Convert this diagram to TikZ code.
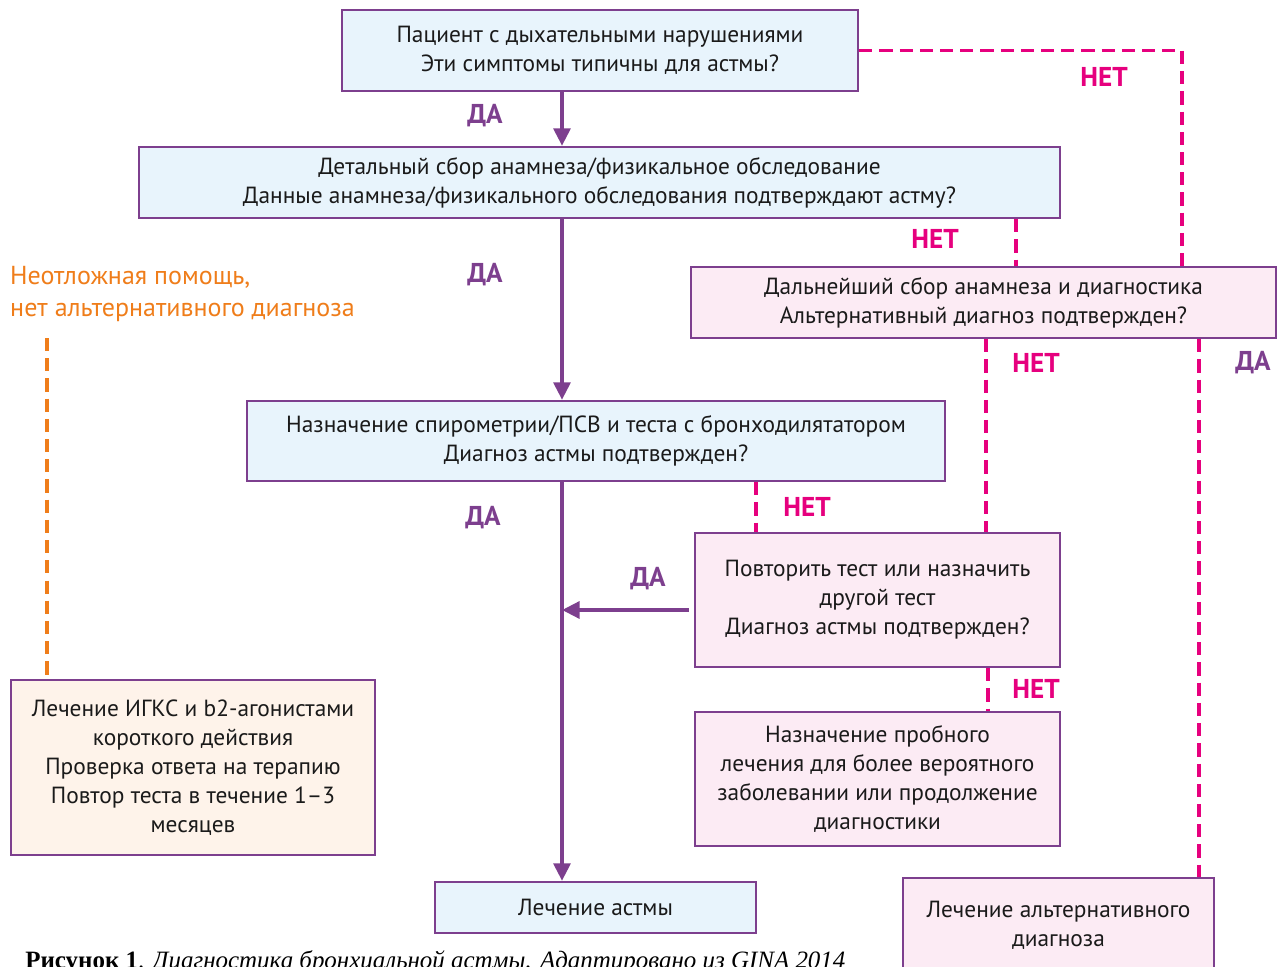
\documentclass[tikz,border=0pt]{standalone}
\usepackage{fontspec}
\setmainfont{PT Sans}
\newfontfamily\capfont{Liberation Serif}
\usetikzlibrary{arrows.meta,positioning,calc}
\definecolor{frame}{HTML}{7D3F8E}
\definecolor{skyfill}{HTML}{E8F4FC}
\definecolor{rosefill}{HTML}{FCEBF4}
\definecolor{peachfill}{HTML}{FEF3EA}
\definecolor{nopink}{HTML}{E6007E}
\definecolor{urgent}{HTML}{EF7D1A}
\definecolor{ink}{HTML}{1A1A1A}
\tikzset{
  yes/.style={-{Triangle[length=10pt,width=9.5pt]},line width=2.3pt,frame},
  no/.style={nopink,line width=2pt,dash pattern=on 7.5pt off 4pt},
  urgentline/.style={urgent,line width=1.9pt,dash pattern=on 7.5pt off 4pt},
  box/.style={draw=frame,line width=1.3pt,inner sep=0pt,align=center,text=ink,
    font=\fontsize{13.3}{16.5}\selectfont},
  askbox/.style={box,fill=skyfill},
  altbox/.style={box,fill=rosefill},
  carebox/.style={box,fill=peachfill},
  yeslabel/.style={text=frame,font=\bfseries\fontsize{15.5}{15.5}\selectfont},
  nolabel/.style={text=nopink,font=\bfseries\fontsize{15.5}{15.5}\selectfont}
}
\begin{document}
\begin{tikzpicture}[x=0.2mm,y=-0.2mm]
\useasboundingbox (0,0) rectangle (1282,967);
% main question chain
\node[askbox,minimum width=10.32cm,minimum height=1.62cm] (typical) at (600,50.5)
  {Пациент с дыхательными нарушениями\\Эти симптомы типичны для астмы?};
\node[askbox,minimum width=18.42cm,minimum height=1.42cm] (history) at (599.5,182.5)
  {Детальный сбор анамнеза/физикальное обследование\\Данные анамнеза/физикального обследования подтверждают астму?};
\node[askbox,minimum width=13.96cm,minimum height=1.6cm] (spiro) at (596,441)
  {Назначение спирометрии/ПСВ и теста с бронходилятатором\\Диагноз астмы подтвержден?};
\node[askbox,minimum width=6.42cm,minimum height=1.02cm] (asthma) at (595.5,907.5)
  {Лечение астмы};
% side branches
\node[altbox,minimum width=11.7cm,minimum height=1.42cm] (further) at (983.5,302.5)
  {Дальнейший сбор анамнеза и диагностика\\Альтернативный диагноз подтвержден?};
\node[altbox,minimum width=7.3cm,minimum height=2.68cm] (retest) at (877.5,600)
  {Повторить тест или назначить\\другой тест\\Диагноз астмы подтвержден?};
\node[altbox,minimum width=7.3cm,minimum height=2.68cm] (trial) at (877.5,779)
  {Назначение пробного\\лечения для более вероятного\\заболевании или продолжение\\диагностики};
\node[altbox,minimum width=6.22cm,minimum height=1.9cm] (alttreat) at (1058.5,925.5)
  {Лечение альтернативного\\диагноза};
% emergency
\node[anchor=west,align=left,text=urgent,font=\fontsize{14.8}{18.2}\selectfont] (urgentnote) at (4,294)
  {Неотложная помощь,\\нет альтернативного диагноза};
\node[carebox,minimum width=7.28cm,minimum height=3.5cm] (care) at (193,767.5)
  {Лечение ИГКС и b2-агонистами\\короткого действия\\Проверка ответа на терапию\\Повтор теста в течение 1–3\\месяцев};
% connectors
\coordinate (spine) at (562,0);
\coordinate (outer) at (1182,0);
\coordinate (histno) at (1016,0);
\coordinate (furtherno) at (986,0);
\coordinate (furtheryes) at (1199,0);
\coordinate (spirono) at (756,0);
\coordinate (retestno) at (988,0);
\coordinate (urgenttop) at (47,338);
\draw[yes] (spine |- typical.south) -- (spine |- history.north);
\draw[yes] (spine |- history.south) -- (spine |- spiro.north);
\draw[yes] (spine |- spiro.south) -- (spine |- asthma.north);
\draw[yes] ($(retest.west)+(-5,10)$) -- ($(spine |- retest.west)+(0,10)$);
\draw[no] (typical.east) -| (outer |- further.north);
\draw[no] (histno |- history.south) -- (histno |- further.north);
\draw[no] (furtherno |- further.south) -- (furtherno |- retest.north);
\draw[no] (furtheryes |- further.south) -- (furtheryes |- alttreat.north);
\draw[no] (spirono |- spiro.south) -- (spirono |- retest.north);
\draw[no] (retestno |- retest.south) -- (retestno |- trial.north);
\draw[urgentline] (urgenttop) -- (urgenttop |- care.north);
% labels
\node[yeslabel] (yes1) at (485,116) {ДА};
\node[yeslabel] (yes2) at (485,275) {ДА};
\node[yeslabel] (yes3) at (483,518) {ДА};
\node[yeslabel] (yes4) at (648,579) {ДА};
\node[yeslabel] (yes5) at (1253,363) {ДА};
\node[nolabel] (no1) at (1104,77) {НЕТ};
\node[nolabel] (no2) at (935,239) {НЕТ};
\node[nolabel] (no3) at (1036,363) {НЕТ};
\node[nolabel] (no4) at (807,507) {НЕТ};
\node[nolabel] (no5) at (1036,689) {НЕТ};
\node[anchor=base west,inner sep=0pt,font=\capfont\fontsize{14.2}{14.2}\selectfont] (caption) at (25,968)
  {\textbf{Рисунок 1}. \textit{Диагностика бронхиальной астмы. Адаптировано из GINA 2014}};
\end{tikzpicture}
\end{document}
